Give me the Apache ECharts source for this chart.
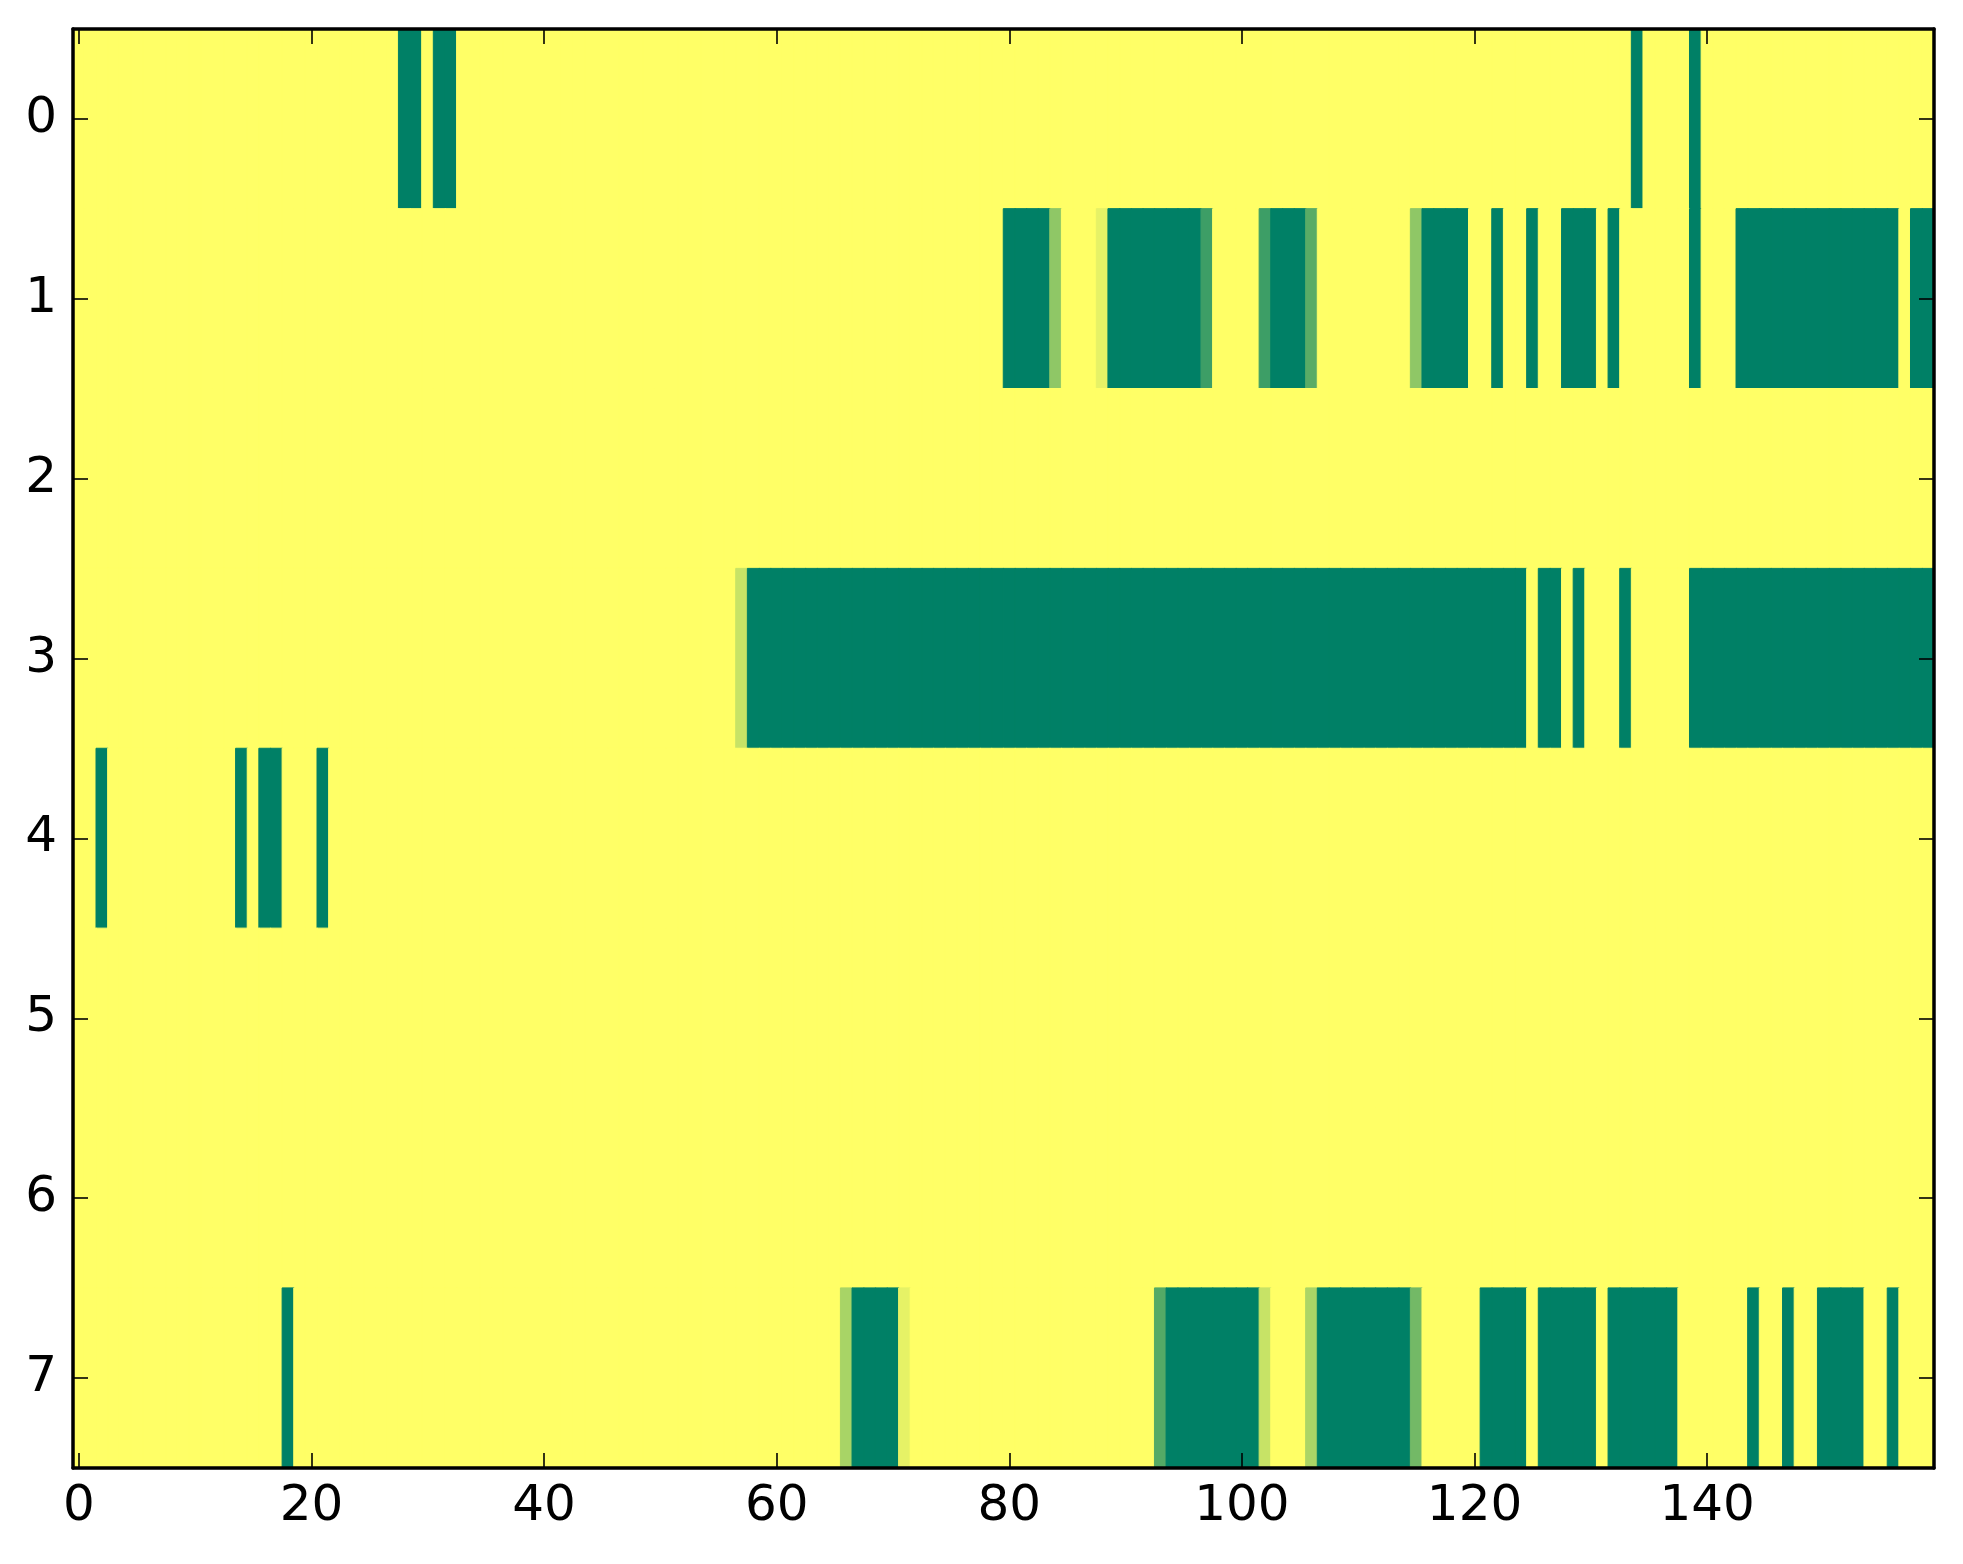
<!DOCTYPE html>
<html>
<head>
<meta charset="utf-8">
<script src="https://cdn.jsdelivr.net/npm/echarts@6/dist/echarts.min.js"></script>
<style>
html,body{margin:0;padding:0;background:#fff;}
#chart{width:1963px;height:1564px;}
</style>
</head>
<body>
<div id="chart"></div>
<script>
// Column categories 0..159 and row categories 0..7
var xCategories = [];
for (var i = 0; i < 160; i++) xCategories.push(String(i));
var yCategories = ['0','1','2','3','4','5','6','7'];
var xTickLabels = ['0','20','40','60','80','100','120','140'];

// Cell values per row (160 columns each)
var row0 = [
0,0,0,0,0,0,0,0,0,0, 0,0,0,0,0,0,0,0,0,0, 0,0,0,0,0,0,0,0,1,1, 0,1,1,0,0,0,0,0,0,0,
0,0,0,0,0,0,0,0,0,0, 0,0,0,0,0,0,0,0,0,0, 0,0,0,0,0,0,0,0,0,0, 0,0,0,0,0,0,0,0,0,0,
0,0,0,0,0,0,0,0,0,0, 0,0,0,0,0,0,0,0,0,0, 0,0,0,0,0,0,0,0,0,0, 0,0,0,0,0,0,0,0,0,0,
0,0,0,0,0,0,0,0,0,0, 0,0,0,0,1,0,0,0,0,1, 0,0,0,0,0,0,0,0,0,0, 0,0,0,0,0,0,0,0,0,0
];
var row1 = [
0,0,0,0,0,0,0,0,0,0, 0,0,0,0,0,0,0,0,0,0, 0,0,0,0,0,0,0,0,0,0, 0,0,0,0,0,0,0,0,0,0,
0,0,0,0,0,0,0,0,0,0, 0,0,0,0,0,0,0,0,0,0, 0,0,0,0,0,0,0,0,0,0, 0,0,0,0,0,0,0,0,0,0,
1,1,1,1,0.44,0,0,0,0.1,1, 1,1,1,1,1,1,1,0.76,0,0, 0,0,0.76,1,1,1,0.65,0,0,0, 0,0,0,0,0,0.44,1,1,1,1,
0,0,1,0,0,1,0,0,1,1, 1,0,1,0,0,0,0,0,0,1, 0,0,0,1,1,1,1,1,1,1, 1,1,1,1,1,1,1,0,1,1
];
var row2 = [
0,0,0,0,0,0,0,0,0,0, 0,0,0,0,0,0,0,0,0,0, 0,0,0,0,0,0,0,0,0,0, 0,0,0,0,0,0,0,0,0,0,
0,0,0,0,0,0,0,0,0,0, 0,0,0,0,0,0,0,0,0,0, 0,0,0,0,0,0,0,0,0,0, 0,0,0,0,0,0,0,0,0,0,
0,0,0,0,0,0,0,0,0,0, 0,0,0,0,0,0,0,0,0,0, 0,0,0,0,0,0,0,0,0,0, 0,0,0,0,0,0,0,0,0,0,
0,0,0,0,0,0,0,0,0,0, 0,0,0,0,0,0,0,0,0,0, 0,0,0,0,0,0,0,0,0,0, 0,0,0,0,0,0,0,0,0,0
];
var row3 = [
0,0,0,0,0,0,0,0,0,0, 0,0,0,0,0,0,0,0,0,0, 0,0,0,0,0,0,0,0,0,0, 0,0,0,0,0,0,0,0,0,0,
0,0,0,0,0,0,0,0,0,0, 0,0,0,0,0,0,0,0.22,1,1, 1,1,1,1,1,1,1,1,1,1, 1,1,1,1,1,1,1,1,1,1,
1,1,1,1,1,1,1,1,1,1, 1,1,1,1,1,1,1,1,1,1, 1,1,1,1,1,1,1,1,1,1, 1,1,1,1,1,1,1,1,1,1,
1,1,1,1,1,0,1,1,0,1, 0,0,0,1,0,0,0,0,0,1, 1,1,1,1,1,1,1,1,1,1, 1,1,1,1,1,1,1,1,1,1
];
var row4 = [
0,0,1,0,0,0,0,0,0,0, 0,0,0,0,1,0,1,1,0,0, 0,1,0,0,0,0,0,0,0,0, 0,0,0,0,0,0,0,0,0,0,
0,0,0,0,0,0,0,0,0,0, 0,0,0,0,0,0,0,0,0,0, 0,0,0,0,0,0,0,0,0,0, 0,0,0,0,0,0,0,0,0,0,
0,0,0,0,0,0,0,0,0,0, 0,0,0,0,0,0,0,0,0,0, 0,0,0,0,0,0,0,0,0,0, 0,0,0,0,0,0,0,0,0,0,
0,0,0,0,0,0,0,0,0,0, 0,0,0,0,0,0,0,0,0,0, 0,0,0,0,0,0,0,0,0,0, 0,0,0,0,0,0,0,0,0,0
];
var row5 = [
0,0,0,0,0,0,0,0,0,0, 0,0,0,0,0,0,0,0,0,0, 0,0,0,0,0,0,0,0,0,0, 0,0,0,0,0,0,0,0,0,0,
0,0,0,0,0,0,0,0,0,0, 0,0,0,0,0,0,0,0,0,0, 0,0,0,0,0,0,0,0,0,0, 0,0,0,0,0,0,0,0,0,0,
0,0,0,0,0,0,0,0,0,0, 0,0,0,0,0,0,0,0,0,0, 0,0,0,0,0,0,0,0,0,0, 0,0,0,0,0,0,0,0,0,0,
0,0,0,0,0,0,0,0,0,0, 0,0,0,0,0,0,0,0,0,0, 0,0,0,0,0,0,0,0,0,0, 0,0,0,0,0,0,0,0,0,0
];
var row6 = [
0,0,0,0,0,0,0,0,0,0, 0,0,0,0,0,0,0,0,0,0, 0,0,0,0,0,0,0,0,0,0, 0,0,0,0,0,0,0,0,0,0,
0,0,0,0,0,0,0,0,0,0, 0,0,0,0,0,0,0,0,0,0, 0,0,0,0,0,0,0,0,0,0, 0,0,0,0,0,0,0,0,0,0,
0,0,0,0,0,0,0,0,0,0, 0,0,0,0,0,0,0,0,0,0, 0,0,0,0,0,0,0,0,0,0, 0,0,0,0,0,0,0,0,0,0,
0,0,0,0,0,0,0,0,0,0, 0,0,0,0,0,0,0,0,0,0, 0,0,0,0,0,0,0,0,0,0, 0,0,0,0,0,0,0,0,0,0
];
var row7 = [
0,0,0,0,0,0,0,0,0,0, 0,0,0,0,0,0,0,0,1,0, 0,0,0,0,0,0,0,0,0,0, 0,0,0,0,0,0,0,0,0,0,
0,0,0,0,0,0,0,0,0,0, 0,0,0,0,0,0,0,0,0,0, 0,0,0,0,0,0,0.34,1,1,1, 1,0.1,0,0,0,0,0,0,0,0,
0,0,0,0,0,0,0,0,0,0, 0,0,0,0.67,1,1,1,1,1,1, 1,1,0.22,0,0,0,0.33,1,1,1, 1,1,1,1,1,0.55,0,0,0,0,
0,1,1,1,1,0,1,1,1,1, 1,0,1,1,1,1,1,1,0,0, 0,0,0,0,1,0,0,1,0,0, 1,1,1,1,0,0,1,0,0,0
];
var rows = [row0, row1, row2, row3, row4, row5, row6, row7];

// colormap end colours (value 0 -> yellow, value 1 -> green)
var lowColor = [255, 255, 102];
var highColor = [0, 128, 102];
function cmap(v) {
  var c = lowColor.map(function (a, k) { return Math.round(a + (highColor[k] - a) * v); });
  return 'rgb(' + c.join(',') + ')';
}

var cells = [];
rows.forEach(function (r, yi) {
  r.forEach(function (v, xi) {
    // border in the same colour as the fill hides anti-aliasing seams between cells
    cells.push({ value: [xi, yi, v], itemStyle: { borderColor: cmap(v), borderWidth: 1 } });
  });
});

var labelSet = {};
xTickLabels.forEach(function (l) { labelSet[l] = true; });
var showX = function (idx, val) { return !!labelSet[val]; };

var FONT = 'DejaVu Sans';
var axisLine = { show: true, onZero: false, lineStyle: { color: '#000', width: 3.5 } };
var tickStyle = { color: '#000', width: 1.6 };

var chart = echarts.init(document.getElementById('chart'), null, { renderer: 'canvas' });
chart.setOption({
  animation: false,
  backgroundColor: '#ffffff',
  grid: { left: 73, top: 29, width: 1861, height: 1439, containLabel: false },
  xAxis: [
    {
      type: 'category', data: xCategories, position: 'bottom', z: 10,
      axisLine: axisLine,
      axisTick: { show: true, inside: true, length: 15, alignWithLabel: true, interval: showX, lineStyle: tickStyle },
      axisLabel: { show: true, interval: showX, color: '#000', fontSize: 50, fontFamily: FONT, margin: 14 },
      splitLine: { show: false }
    },
    {
      type: 'category', data: xCategories, position: 'top', z: 10,
      axisLine: axisLine,
      axisTick: { show: true, inside: true, length: 15, alignWithLabel: true, interval: showX, lineStyle: tickStyle },
      axisLabel: { show: false },
      splitLine: { show: false }
    }
  ],
  yAxis: [
    {
      type: 'category', data: yCategories, inverse: true, position: 'left', z: 10,
      axisLine: axisLine,
      axisTick: { show: true, inside: true, length: 15, alignWithLabel: true, interval: 0, lineStyle: tickStyle },
      axisLabel: { show: true, interval: 0, color: '#000', fontSize: 50, fontFamily: FONT, margin: 16 },
      splitLine: { show: false }
    },
    {
      type: 'category', data: yCategories, inverse: true, position: 'right', z: 10,
      axisLine: axisLine,
      axisTick: { show: true, inside: true, length: 15, alignWithLabel: true, interval: 0, lineStyle: tickStyle },
      axisLabel: { show: false },
      splitLine: { show: false }
    }
  ],
  visualMap: {
    show: false, type: 'continuous', min: 0, max: 1, dimension: 2, seriesIndex: 0,
    inRange: { color: ['#ffff66', '#008066'] }
  },
  series: [{
    type: 'heatmap',
    xAxisIndex: 0, yAxisIndex: 0,
    z: 2,
    data: cells,
    emphasis: { disabled: true },
    progressive: 0
  }]
});
</script>
</body>
</html>
